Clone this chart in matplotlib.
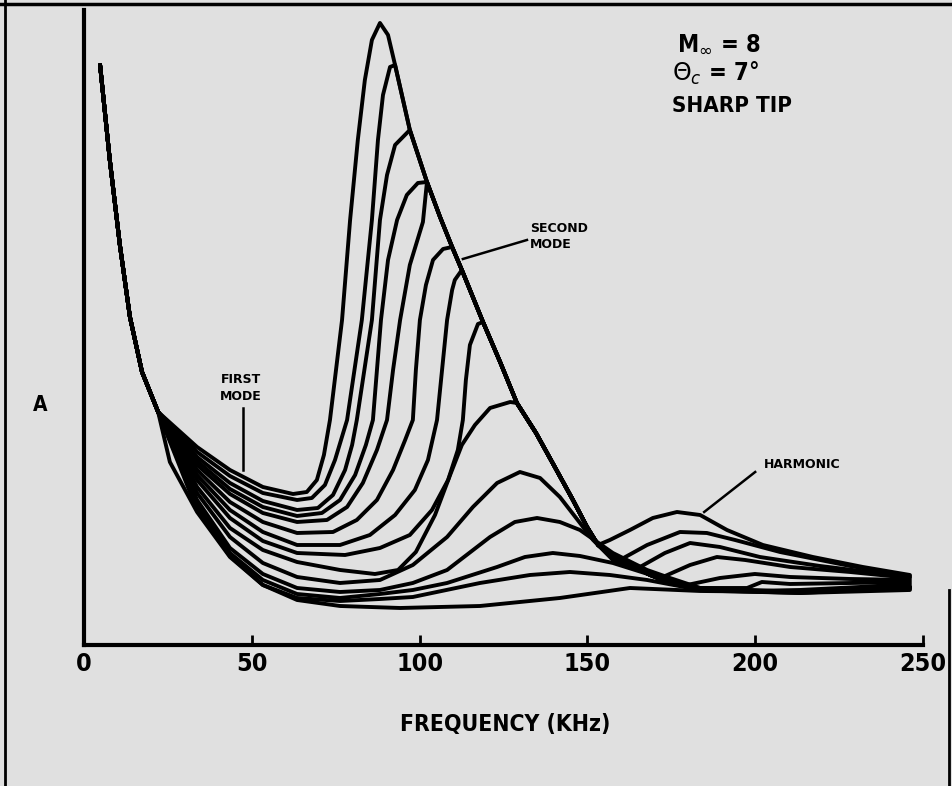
import matplotlib.pyplot as plt
from matplotlib.lines import Line2D

# amplitude has no scale on the original, values are in arbitrary units
start_khz = [4.8, 7.7, 10.7, 13.7, 17.3, 22.1]
start_amp = [580, 485, 400, 328, 273, 233]

# falling side of the second mode, shared by the upper curves
env_khz = [90.6, 92.7, 97.1, 102.2, 106.1, 109.7, 112.6, 118.9, 124.0, 129.0, 134.7,
           140.3, 145.7, 149.9, 153.2, 157.3, 162.7, 168.7, 174.6, 183.6]
env_amp = [610, 580, 515, 463, 428, 398, 375, 323, 283, 242, 212,
           178, 145, 118, 100, 89, 80, 70, 62, 56]

# first mode + rising side of second mode (up to where the curve meets the shared falling side)
rise_khz = [
    [33.7, 43.5, 53.3, 62.3, 66.4, 69.4, 71.5, 73.3, 76.9, 79.3, 81.6, 83.7, 85.8, 88.2],
    [33.7, 43.5, 53.3, 63.5, 67.9, 71.8, 74.8, 78.4, 82.8, 85.8, 87.6, 89.1, 91.2],
    [33.7, 43.5, 53.3, 63.5, 69.7, 74.2, 77.8, 79.9, 81.3, 85.8, 88.2, 90.3, 92.7],
    [33.7, 43.5, 53.3, 63.5, 70.9, 76.3, 80.8, 84.0, 86.1, 87.3, 88.5, 90.6, 93.3, 96.2, 99.5],
    [33.7, 43.5, 53.3, 63.5, 72.4, 78.4, 83.1, 87.3, 90.3, 92.1, 94.2, 97.1, 101.0],
    [33.7, 43.5, 53.3, 63.5, 74.2, 81.3, 87.3, 92.1, 95.7, 98.0, 98.9, 100.1, 101.9, 104.0, 107.0],
    [33.7, 43.5, 53.3, 63.5, 76.3, 85.2, 92.7, 98.6, 102.5, 105.2, 106.7, 108.2, 109.7, 110.5],
    [33.7, 43.5, 53.3, 63.5, 77.8, 88.2, 97.1, 103.7, 108.5, 111.4, 112.9, 113.8, 115.0, 117.4],
    [33.7, 43.5, 53.3, 63.5, 76.3, 86.7, 93.6, 98.9, 104.6, 109.1, 112.6, 116.5, 121.0, 127.0],
    [33.7, 43.5, 53.3, 63.5, 76.3, 88.2, 98.0, 108.2, 115.9, 123.1, 129.9, 135.9, 141.8, 147.8,
     151.7, 157.6, 162.7, 167.8, 174.6, 183.6, 213.3, 246.1],
    [33.7, 43.5, 53.3, 63.5, 76.3, 88.2, 98.0, 108.2, 121.0, 128.4, 135.0, 141.8, 147.8, 157.6,
     167.8, 174.6, 183.6, 213.3, 246.1],
    [33.7, 43.5, 53.3, 63.5, 76.3, 88.2, 98.0, 108.2, 123.1, 131.4, 139.7, 147.8, 157.6, 173.7,
     183.6, 213.3, 246.1],
    [33.7, 43.5, 53.3, 63.5, 76.3, 88.2, 98.0, 118.0, 132.9, 144.8, 156.7, 167.8, 183.6, 213.3, 246.1],
    [25.6, 33.7, 43.5, 53.3, 63.5, 76.3, 94.2, 118.0, 141.8, 162.7, 183.6, 213.3, 246.1],
]
rise_amp = [
    [198, 175, 158, 151, 153, 165, 190, 225, 325, 425, 505, 565, 605, 622],
    [193, 169, 152, 145, 147, 160, 185, 225, 325, 425, 505, 550, 578],
    [188, 162, 144, 135, 137, 150, 175, 200, 225, 325, 425, 470, 500],
    [184, 156, 138, 129, 132, 145, 170, 200, 225, 275, 325, 385, 425, 450, 462],
    [180, 151, 132, 123, 125, 138, 162, 195, 225, 275, 325, 380, 423],
    [175, 143, 123, 112, 113, 125, 145, 175, 205, 225, 275, 325, 360, 385, 396],
    [170, 135, 113, 100, 100, 110, 130, 155, 185, 225, 275, 325, 355, 365],
    [165, 127, 104, 92, 90, 97, 110, 135, 165, 195, 225, 265, 300, 321],
    [158, 117, 95, 83, 75, 71, 75, 93, 130, 170, 200, 220, 237, 243],
    [152, 108, 82, 68, 62, 65, 80, 108, 138, 162, 173, 167, 148, 122,
     105, 85, 78, 72, 62, 55, 53, 58],
    [145, 97, 71, 57, 53, 55, 62, 75, 108, 123, 127, 123, 115, 92,
     75, 67, 57, 53, 57],
    [140, 92, 65, 51, 47, 51, 55, 62, 78, 88, 92, 89, 82, 65,
     56, 53, 56],
    [135, 89, 60, 47, 44, 46, 48, 62, 70, 73, 70, 65, 55, 52, 55],
    [183, 133, 88, 60, 45, 39, 37, 39, 47, 57, 54, 53, 57],
]

# harmonic part after leaving the shared falling side
tail_khz = [
    [156.7, 162.7, 169.5, 176.7, 183.6, 191.6, 202.3, 217.2, 232.1, 246.1],
    [159.7, 167.8, 177.6, 185.6, 194.0, 207.4, 228.3, 246.1],
    [165.7, 173.1, 180.6, 189.5, 201.4, 219.3, 246.1],
    [172.5, 180.6, 188.6, 197.0, 210.4, 228.3, 246.1],
    [179.7, 189.5, 199.9, 210.4, 228.3, 246.1],
    [183.6, 197.6, 202.0, 210.4, 228.3, 246.1],
    [198.5, 213.3, 231.2, 246.1],
    [189.5, 213.3, 231.2, 246.1],
    [189.5, 213.3, 231.2, 246.1],
    [], [], [], [], [],
]
tail_amp = [
    [105, 115, 127, 133, 130, 115, 100, 88, 78, 70],
    [85, 100, 113, 112, 105, 93, 79, 69],
    [78, 92, 102, 98, 88, 79, 68],
    [68, 80, 88, 85, 78, 73, 67],
    [60, 67, 71, 68, 66, 65],
    [57, 57, 63, 61, 62, 63],
    [54, 55, 58, 61],
    [55, 53, 56, 59],
    [54, 52, 55, 58],
    [], [], [], [], [],
]

xticks = [0, 50, 100, 150, 200, 250]
big = dict(family='DejaVu Sans', fontstretch='condensed', fontweight='bold')

fig = plt.figure(figsize=(9.53, 7.86), dpi=100, facecolor='#e0e0e0')
ax = fig.add_axes([0.0881, 0.1794, 0.8804, 0.8079])
ax.set_facecolor('none')

for rf, ra, tf, ta in zip(rise_khz, rise_amp, tail_khz, tail_amp):
    f = start_khz + rf
    a = start_amp + ra
    if tf:
        for k, v in zip(env_khz, env_amp):
            if rf[-1] < k < tf[0]:
                f.append(k)
                a.append(v)
        f = f + tf
        a = a + ta
    ax.plot(f, a, color='black', lw=2.8, solid_joinstyle='round', solid_capstyle='round')

ax.set_xlim(0, 250)
ax.set_ylim(0, 635)
ax.spines['top'].set_visible(False)
ax.spines['right'].set_visible(False)
ax.spines['left'].set_linewidth(3)
ax.spines['bottom'].set_linewidth(3)
ax.set_yticks([])
ax.set_xticks(xticks)
ax.set_xticklabels([str(t) for t in xticks], fontsize=18, **big)
ax.tick_params(axis='x', direction='in', length=7, width=2, pad=5)

# labels
fig.text(505 / 953, 1 - 725 / 786, 'FREQUENCY (KHz)', ha='center', va='center',
         fontsize=16.5, **big)
fig.text(40 / 953, 1 - 405 / 786, 'A', ha='center', va='center', fontsize=15, **big)

# annotations
ax.text(46.8, 265, 'FIRST', ha='center', va='center', fontsize=9, fontweight='bold')
ax.text(46.8, 248, 'MODE', ha='center', va='center', fontsize=9, fontweight='bold')
ax.plot([47.4, 47.4], [237, 175], color='black', lw=1.8)

ax.text(132.9, 416, 'SECOND', ha='left', va='center', fontsize=9, fontweight='bold')
ax.text(132.9, 400, 'MODE', ha='left', va='center', fontsize=9, fontweight='bold')
ax.plot([132.0, 112.9], [405, 386], color='black', lw=1.8)

ax.text(202.6, 180, 'HARMONIC', ha='left', va='center', fontsize=9, fontweight='bold')
ax.plot([200.0, 184.8], [173, 133], color='black', lw=1.8)

fig.text(677 / 953, 1 - 44 / 786, r'M$_{\infty}$ = 8', ha='left', va='center',
         fontsize=17, **big)
fig.text(672 / 953, 1 - 73 / 786, r'$\Theta_c$ = 7°', ha='left', va='center',
         fontsize=17, **big)
fig.text(672 / 953, 1 - 106 / 786, 'SHARP TIP', ha='left', va='center',
         fontsize=16, **big)

# frame of the scanned page
fig.add_artist(Line2D([0, 1], [0.995, 0.995], color='black', lw=2.5))
fig.add_artist(Line2D([0.005, 0.005], [0, 1], color='black', lw=2))
fig.add_artist(Line2D([0.996, 0.996], [0, 0.25], color='black', lw=2))

fig.savefig('out.png', dpi=100, facecolor=fig.get_facecolor())
